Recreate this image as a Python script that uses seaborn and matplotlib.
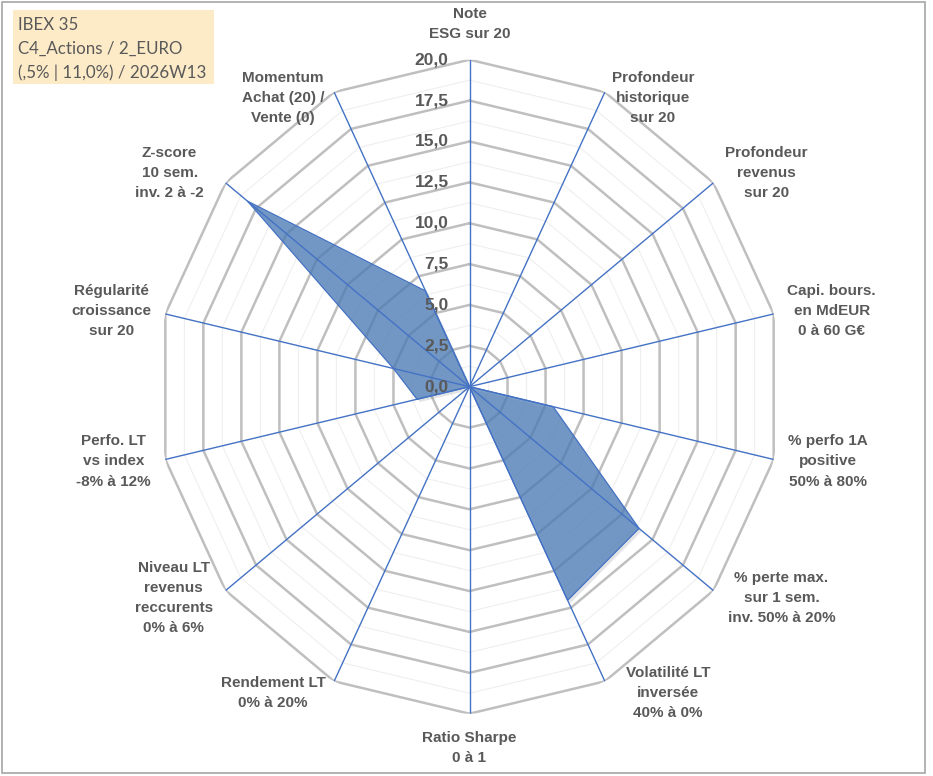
import matplotlib as mpl
mpl.use('Agg')
import matplotlib.pyplot as plt
import matplotlib.patheffects as pe
from matplotlib.patches import Rectangle
import numpy as np
import seaborn as sns

# axes of the radar, clockwise from the top
categories = [
    'Note\nESG sur 20',
    'Profondeur\nhistorique\nsur 20',
    'Profondeur\nrevenus\nsur 20',
    'Capi. bours.\nen MdEUR\n0 à 60 G€',
    '% perfo 1A\npositive\n50% à 80%',
    '% perte max.\nsur 1 sem.\ninv. 50% à 20%',
    'Volatilité LT\ninversée\n40% à 0%',
    'Ratio Sharpe\n0 à 1',
    'Rendement LT\n0% à 20%',
    'Niveau LT\nrevenus\nreccurents\n0% à 6%',
    'Perfo. LT\nvs index\n-8% à 12%',
    'Régularité\ncroissance\nsur 20',
    'Z-score\n10 sem.\ninv. 2 à -2',
    'Momentum\nAchat (20) /\nVente (0)',
]
scores = [0, 0, 0, 0, 5.5, 13.9, 14.5, 0, 0, 0, 3.45, 5.0, 18.2, 6.5]
ring_values = [2.5, 5.0, 7.5, 10.0, 12.5, 15.0, 17.5, 20.0]
minor_ring_values = [1.25, 3.75, 6.25, 8.75, 11.25, 13.75, 16.25, 18.75]
tick_values = [0.0, 2.5, 5.0, 7.5, 10.0, 12.5, 15.0, 17.5, 20.0]
tick_labels = ['0,0', '2,5', '5,0', '7,5', '10,0', '12,5', '15,0', '17,5', '20,0']
header_lines = ['IBEX 35', 'C4_Actions / 2_EURO', '(,5% | 11,0%) / 2026W13']

# label offsets from the axis tip, in pixels (layout only)
label_offsets = [(0, 36), (48, -6), (53, 10), (58, 3), (54, -2), (68, -7), (63, -12),
                 (0, -34), (-61, -12), (-52, -7), (-52, -2), (-54, 3), (-56, 10), (-51, -6)]

sns.set_theme(style='white')
plt.rcParams['font.family'] = ['Liberation Sans', 'DejaVu Sans']

txt_color = '#595959'
blue = '#4472C4'

W, H = 933, 776
fig = plt.figure(figsize=(W / 100, H / 100), dpi=100)
cx, cy, rx, ry = 469.5, 386.7, 312, 327
ax = fig.add_axes([(cx - rx) / W, (H - cy - ry) / H, 2 * rx / W, 2 * ry / H], projection='polar')
ax.set_aspect('auto')
ax.set_theta_zero_location('N')
ax.set_theta_direction(-1)
ax.set_ylim(0, 20)
ax.grid(False)
ax.spines['polar'].set_visible(False)
ax.set_xticks([])
ax.set_yticks([])
ax.set_facecolor('none')

n = len(categories)
theta = np.arange(n) * 2 * np.pi / n
theta_closed = np.append(theta, theta[0])

for r in minor_ring_values:
    ax.plot(theta_closed, [r] * (n + 1), color='#EFEFEF', lw=0.8, zorder=1)
for r in ring_values:
    ax.plot(theta_closed, [r] * (n + 1), color='#BFBFBF', lw=1.8, zorder=2)

vals = np.append(scores, scores[0])
poly = ax.fill(theta_closed, vals, color='#4D7DB8', alpha=0.74, zorder=3, lw=0)[0]
poly.set_path_effects([pe.SimplePatchShadow(offset=(2, -2), alpha=0.12), pe.Normal()])
ax.plot(theta_closed, vals, color=blue, lw=0.9, zorder=4)

for t in theta:
    ax.plot([t, t], [0, 20], color=blue, lw=1.0, zorder=5)

for v, lab in zip(tick_values, tick_labels):
    ax.annotate(lab, xy=(0, v), xytext=(-21, 0), textcoords='offset pixels',
                ha='right', va='center', fontsize=12.5, fontweight='bold',
                color=txt_color, zorder=6)

for t, lab, off in zip(theta, categories, label_offsets):
    ax.annotate(lab, xy=(t, 20), xytext=off, textcoords='offset pixels',
                ha='center', va='center', multialignment='center',
                fontsize=11, fontweight='bold', color=txt_color,
                linespacing=1.55, annotation_clip=False)

# header box
fig.patches.append(Rectangle((13 / W, 1 - 84 / H), 201 / W, 74 / H, transform=fig.transFigure,
                             facecolor='#FDEBC8', edgecolor='none', zorder=0))
for i, line in enumerate(header_lines):
    fig.text(18 / W, 1 - (25 + 24 * i) / H, line, ha='left', va='center',
             fontsize=12.2, color=txt_color, family=['Lato', 'DejaVu Sans'])

# chart frame
fig.patches.append(Rectangle((2 / W, 3 / H), 923 / W, 771 / H, transform=fig.transFigure,
                             facecolor='none', edgecolor='#A6A6A6', lw=1.2, zorder=0))

fig.savefig('out.png', dpi=100)
